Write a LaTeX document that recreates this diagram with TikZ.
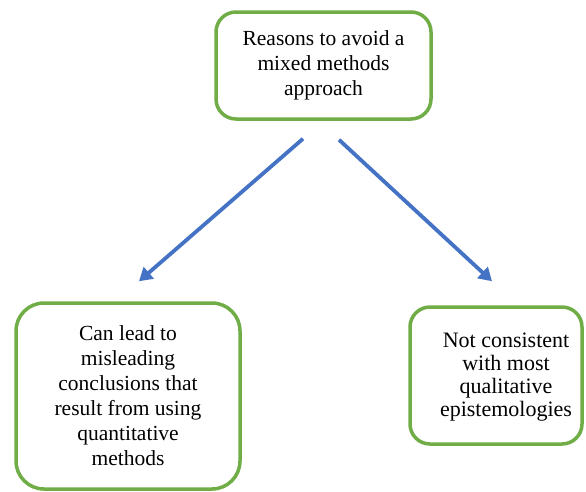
\documentclass[tikz,border=0pt]{standalone}
\usepackage{fontspec}
\setmainfont{Liberation Serif}
\usetikzlibrary{arrows.meta}
\definecolor{boxgreen}{HTML}{70AD47}
\definecolor{arrowblue}{HTML}{4472C4}
\begin{document}
\begin{tikzpicture}[x=1pt,y=-1pt,
  box/.style={draw=boxgreen, line width=3.5pt, rounded corners=20pt, align=center,
    font=\fontsize{21.5}{25}\selectfont, inner sep=0pt, fill=white},
  boxtext/.style={align=center, inner sep=0pt},
  link/.style={draw=arrowblue, line width=3.8pt, -{Triangle[length=13pt,width=15pt]}}]
\useasboundingbox (0,0) rectangle (586,491);
\node[box, minimum width=215pt, minimum height=107pt] (top) at (323.5,65.5)
  {Reasons to avoid a\\mixed methods\\approach};
\node[box, rounded corners=28pt, minimum width=224pt, minimum height=186pt] (left) at (128,396)
  {Can lead to\\misleading\\conclusions that\\result from using\\quantitative\\methods};
\node[box, minimum width=172pt, minimum height=137pt] (right) at (496,375.5) {};
\node[boxtext, font=\fontsize{22}{23}\selectfont] (righttext) at ([xshift=10pt,yshift=-2pt]right.center)
  {Not consistent\\with most\\qualitative\\epistemologies};
\coordinate (a1s) at ([xshift=-20.5pt,yshift=-18pt]top.south);
\coordinate (a1e) at ([xshift=11pt,yshift=20pt]left.north);
\coordinate (a2s) at ([xshift=15.5pt,yshift=-19pt]top.south);
\coordinate (a2e) at ([xshift=-4pt,yshift=24pt]right.north);
\draw[link] (a1s) -- (a1e);
\draw[link] (a2s) -- (a2e);
\end{tikzpicture}
\end{document}
